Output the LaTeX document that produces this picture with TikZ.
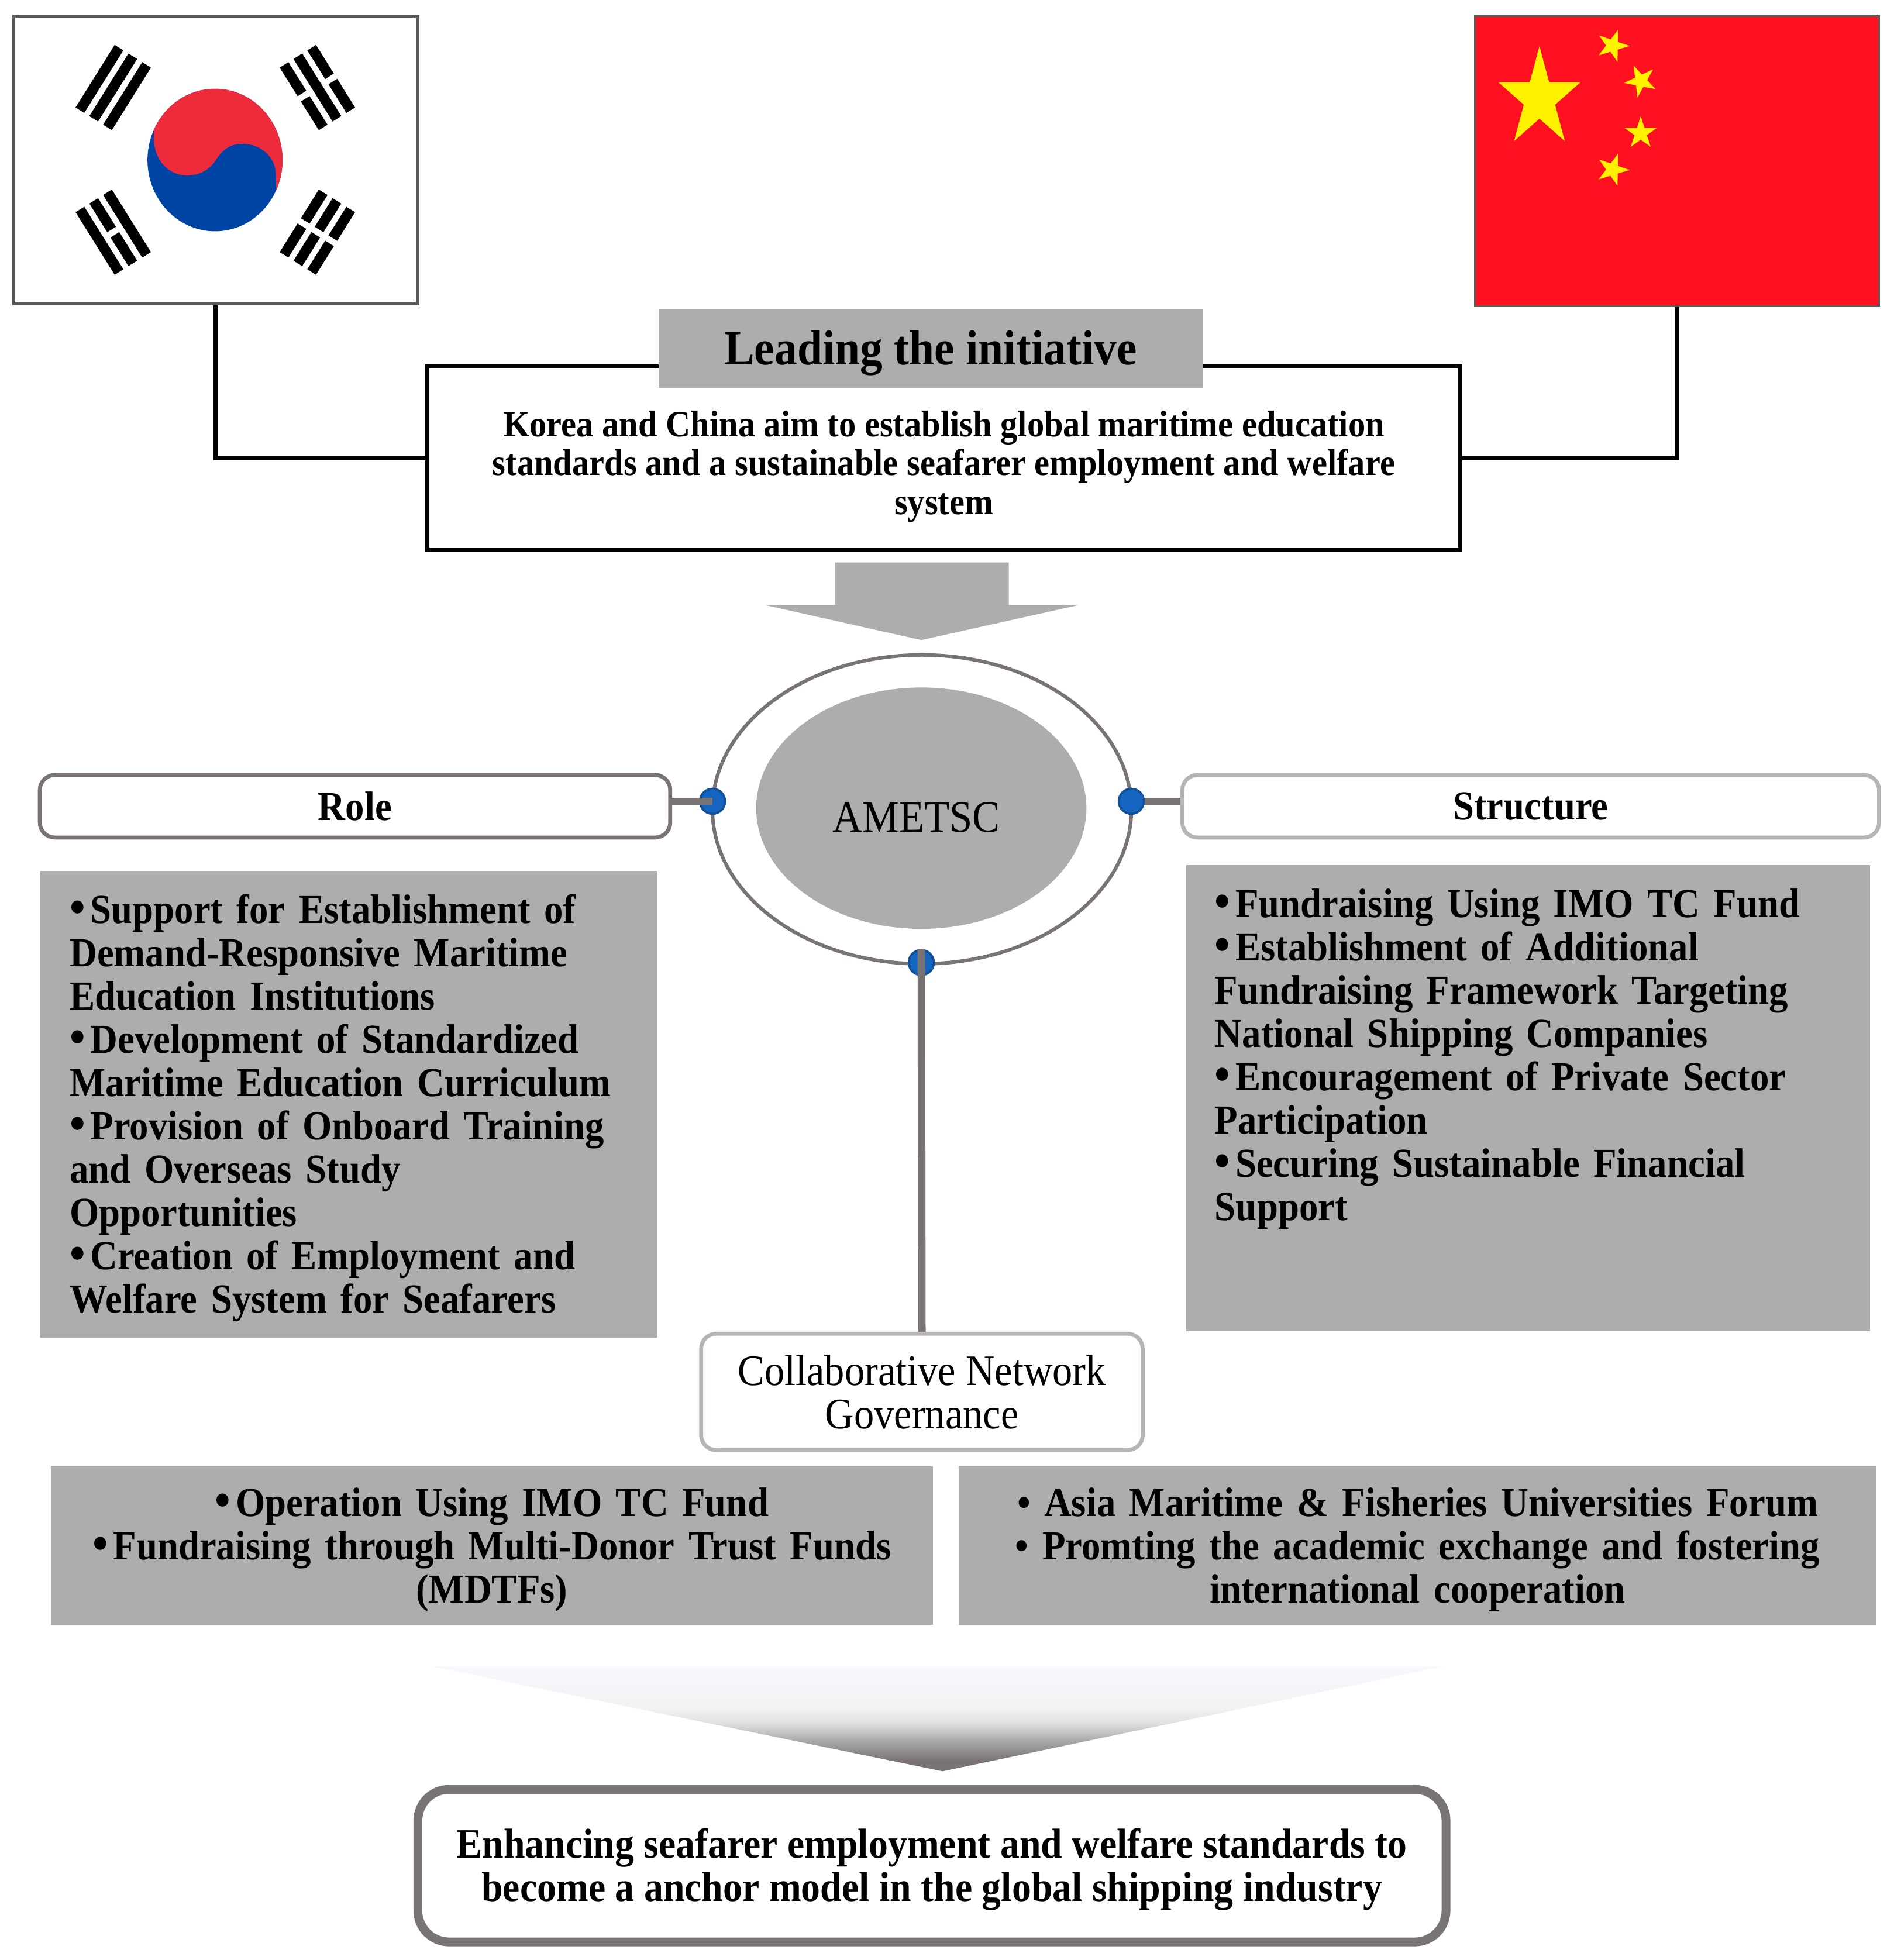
\documentclass[tikz,border=0pt]{standalone}
\usepackage{fontspec}
\setmainfont{Liberation Serif}[FakeStretch=0.92]
\usepackage{xcolor}
\usetikzlibrary{shapes.geometric}
\definecolor{boxgray}{HTML}{AFACAC}
\definecolor{linegray}{HTML}{7A7373}
\definecolor{palegray}{HTML}{B8B4B4}
\definecolor{dotblue}{HTML}{1565C0}
\definecolor{flagred}{HTML}{FF1020}
\definecolor{taegred}{HTML}{EE2B3B}
\definecolor{taegblue}{HTML}{0045A5}
\pgfdeclareverticalshading{funnelfade}{100bp}{
  color(0bp)=(linegray); color(25bp)=(linegray); color(30bp)=(linegray);
  color(39bp)=(black!35); color(48bp)=(black!12); color(55bp)=(black!5);
  color(75bp)=(blue!3); color(100bp)=(blue!3)}
\tikzset{
  bodyfont/.style={font=\fontsize{9.37}{9.85}\selectfont\bfseries},
  flagbox/.style={rectangle,draw=black!65,line width=0.7pt,inner sep=0pt},
  conn/.style={draw=black,line width=0.95pt},
  hdr/.style={rectangle,fill=boxgray,inner sep=0pt,align=center,text height=0.35cm,font=\fontsize{11.2}{14}\selectfont\bfseries},
  goalbox/.style={rectangle,draw=black,line width=0.95pt,fill=white,inner sep=0pt,align=center,font=\fontsize{8.46}{8.85}\selectfont\bfseries},
  tag/.style={rectangle,rounded corners=1.2mm,fill=white,inner sep=0pt,align=center,bodyfont},
  txtbox/.style={rectangle,fill=boxgray,inner ysep=0pt,bodyfont},
  stem/.style={draw=linegray,line width=1.7pt},
  dot/.style={circle,fill=dotblue,draw=dotblue!80!black,line width=0.5pt,minimum size=2mm,inner sep=0pt},
  flagstar/.style={star,star points=5,star point ratio=2.618,fill=yellow,inner sep=0pt},
}
\newcommand{\bul}{{\fontsize{11}{9.85}\selectfont•}\kern0.04cm}
% one of the four bar groups of the left flag
\newcommand{\bargroup}[6]{%
  \begin{scope}[shift={(#1,#2)},rotate=#3]
    \foreach \bx/\broken in {-13/#4,0/#5,13/#6}{
      \ifnum\broken=0
        \fill[black] (\bx-4.1,-29.5) rectangle (\bx+4.1,29.5);
      \else
        \fill[black] (\bx-4.1,-29.5) rectangle (\bx+4.1,-2.5);
        \fill[black] (\bx-4.1,2.5) rectangle (\bx+4.1,29.5);
      \fi
    }
  \end{scope}}
\begin{document}
\begin{tikzpicture}[x=0.01cm,y=-0.01cm]
  \useasboundingbox (0,0) rectangle (1515,1568);
  % flags
  \node[flagbox,fill=white,minimum width=3.23cm,minimum height=2.30cm] (krflag) at (172.5,128) {};
  \begin{scope}
    \clip (172,128) ellipse (54 and 57);
    \fill[taegblue] (110,60) rectangle (235,195);
    \fill[taegred] (123,100) -- (123,60) -- (235,60) -- (235,160) -- (221,155) -- (220.7,140)
      .. controls (220.7,125) and (208,115) .. (194,115)
      .. controls (183,115) and (177,121) .. (172.4,128.4)
      .. controls (167,136) and (160,140.3) .. (149.4,140.3)
      .. controls (135,140.3) and (123,128) .. (123,110) -- cycle;
  \end{scope}
  \bargroup{90.6}{70}{-32}{0}{0}{0}
  \bargroup{253.9}{70}{32}{1}{0}{1}
  \bargroup{90.6}{185.7}{32}{0}{1}{0}
  \bargroup{253.9}{185.7}{-32}{1}{1}{1}
  \node[flagbox,fill=flagred,line width=0.4pt,minimum width=3.23cm,minimum height=2.32cm] (cnflag) at (1341.5,129) {};
  \node[flagstar,minimum size=0.84cm,xscale=0.82,transform shape] (bigstar) at (1231.5,78.8) {};
  \node[flagstar,minimum size=0.27cm,rotate=-19] (star1) at (1290,36.5) {};
  \node[flagstar,minimum size=0.27cm,rotate=25] (star2) at (1312.5,64.7) {};
  \node[flagstar,minimum size=0.27cm] (star3) at (1312.5,106.5) {};
  \node[flagstar,minimum size=0.27cm,rotate=-19] (star4) at (1290,135.7) {};
  % initiative
  \node[goalbox,minimum width=8.26cm,minimum height=1.47cm] (goal) at (755,366.5) {\rule{0pt}{0.34cm}Korea and China aim to establish global maritime education\\standards and a sustainable seafarer employment and welfare\\system};
  \node[hdr,minimum width=4.35cm,minimum height=0.63cm] (lead) at (744.5,278.5) {Leading the initiative};
  \draw[conn] (krflag.south) |- (goal.west);
  \draw[conn] (cnflag.south) |- (goal.east);
  \fill[boxgray] (668,450) -- (807,450) -- (807,484) -- (863,484) -- (737,512) -- (612,484) -- (668,484) -- cycle;
  % centre
  \node[ellipse,draw=linegray,line width=0.8pt,minimum width=3.35cm,minimum height=2.47cm,inner sep=0pt] (outer) at (737.5,647.5) {};
  \node[ellipse,fill=boxgray,minimum width=2.64cm,minimum height=1.93cm,inner sep=0pt] (inner) at (737,646.5) {};
  \node[font=\fontsize{10.2}{12}\selectfont,inner sep=0pt] (ametsc) at (733,654) {AMETSC};
  \node[tag,draw=linegray,line width=0.9pt,minimum width=5.04cm,minimum height=0.50cm] (role) at (284,645) {Role};
  \node[tag,draw=palegray,line width=0.9pt,minimum width=5.57cm,minimum height=0.50cm] (struct) at (1224.5,645) {Structure};
  \node[dot] (ldot) at (570,641) {};
  \draw[stem] (role.east |- ldot) -- (ldot.center);
  \draw[stem] (struct.west |- 905,641) -- (905,641);
  \node[dot] (rdot) at (905,641) {};
  \node[dot] (bdot) at (737,770) {};
  % lists
  \node[txtbox,text width=4.46cm,inner xsep=0.24cm,minimum height=3.73cm,align=left] (rolelist) at (279,883.5) {%
    \rule{0pt}{0.29cm}\bul Support for Establishment of\\Demand-Responsive Maritime\\Education Institutions\\\bul Development of Standardized\\Maritime Education Curriculum\\\bul Provision of Onboard Training\\and Overseas Study\\Opportunities\\\bul Creation of Employment and\\Welfare System for Seafarers};
  \node[txtbox,text width=5.01cm,inner xsep=0.23cm,minimum height=3.73cm,align=left] (structlist) at (1222.5,878.5) {%
    \bul Fundraising Using IMO TC Fund\\\bul Establishment of Additional\\Fundraising Framework Targeting\\National Shipping Companies\\\bul Encouragement of Private Sector\\Participation\\\bul Securing Sustainable Financial\\Support\\\mbox{}\\\mbox{}};
  % governance
  \node[tag,draw=palegray,line width=0.9pt,minimum width=3.53cm,minimum height=0.93cm,font=\fontsize{9.9}{9.85}\selectfont] (gov) at (737.5,1113.5) {Collaborative Network\\Governance};
  \draw[stem] (bdot.north) -- (gov.north);
  \node[txtbox,text width=7.05cm,inner xsep=0pt,minimum height=1.27cm,align=center] (fundbox) at (393.5,1236.5) {%
    \rule{0pt}{0.29cm}\bul Operation Using IMO TC Fund\\\bul Fundraising through Multi-Donor Trust Funds\\(MDTFs)};
  \node[txtbox,text width=7.34cm,inner xsep=0pt,minimum height=1.27cm,align=center] (forumbox) at (1134,1236.5) {%
    \rule{0pt}{0.29cm}• Asia Maritime \& Fisheries Universities Forum\\• Promting the academic exchange and fostering\\international cooperation};
  % outcome
  \shade[shading=funnelfade] (345,1333) -- (1155,1333) -- (754,1417) -- cycle;
  \node[rectangle,rounded corners=2.5mm,draw=linegray,line width=2pt,fill=white,minimum width=8.22cm,minimum height=1.22cm,inner sep=0pt,align=center,font=\fontsize{9.52}{9.85}\selectfont\bfseries] (outcome) at (745.5,1492.5) {\rule{0pt}{0.3cm}Enhancing seafarer employment and welfare standards to\\become a anchor model in the global shipping industry};
\end{tikzpicture}
\end{document}
